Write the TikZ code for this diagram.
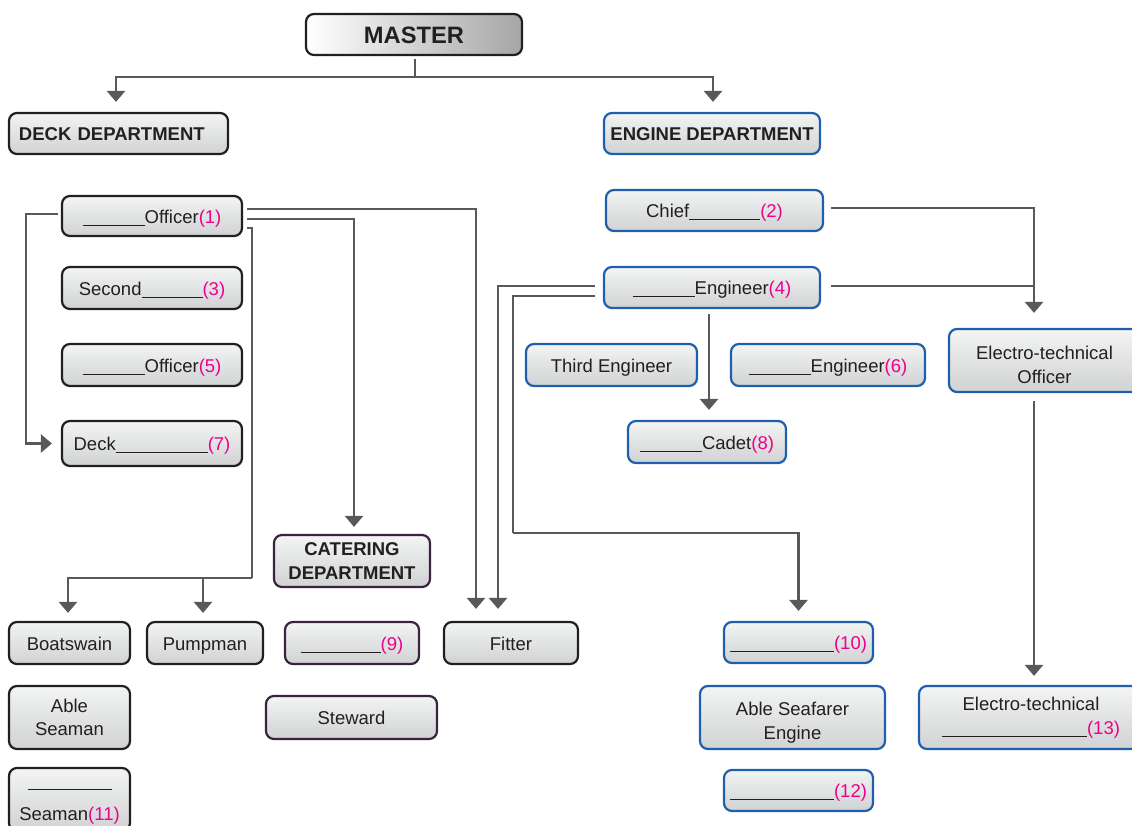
\documentclass[tikz,border=0pt]{standalone}
\usepackage{fontspec}
\setmainfont{Liberation Sans}
\usetikzlibrary{arrows.meta,calc}
\definecolor{txt}{HTML}{231F20}
\definecolor{mag}{HTML}{EC008C}
\definecolor{boxtop}{HTML}{F3F4F4}
\definecolor{boxbot}{HTML}{D0D2D3}
\definecolor{deckc}{HTML}{231F20}
\definecolor{engc}{HTML}{1E5FAE}
\definecolor{catc}{HTML}{3A2340}
\definecolor{linec}{HTML}{58595B}
\newcommand\fs{\fontsize{18.5}{24}\selectfont}
\newcommand\qn[1]{\textcolor{mag}{(#1)}}
\newcommand\blk[1]{\rule[-2.5pt]{#1pt}{1pt}}
\newcommand\hs[1]{\rule{0pt}{#1pt}}
\tikzset{
  box/.style={rounded corners=8pt, line width=2.2pt, top color=boxtop, bottom color=boxbot,
              text=txt, font=\fs, align=center, inner sep=0pt},
  one/.style={text height=14.6pt, text depth=0pt},
  deckbox/.style={box, draw=deckc},
  engbox/.style={box, draw=engc},
  catbox/.style={box, draw=catc},
  conn/.style={draw=linec, line width=2.7pt},
  arr/.style={conn, -{Triangle[width=18pt,length=11pt]}},
}
\begin{document}
\begin{tikzpicture}[x=1pt,y=-1pt]
\useasboundingbox (0,0) rectangle (1132,826);
\clip (0,0) rectangle (1132,826);
% top
\node[box, draw=deckc, left color=white, middle color=white!85!gray, right color=gray!70,
      minimum width=216, minimum height=41, text height=19pt, text depth=0pt,
      font=\fontsize{23.7}{28}\selectfont\bfseries] (master) at (414,34.5) {MASTER};
\node[deckbox, one, minimum width=219, minimum height=41, text width=199, align=left, font=\fs\bfseries] (deck) at (118.5,133.5) {DECK DEPARTMENT};
\node[engbox, one, minimum width=216, minimum height=41, font=\fs\bfseries] (engine) at (712,133.5) {ENGINE DEPARTMENT};
% deck column
\node[deckbox, one, minimum width=180, minimum height=40] (o1) at (152,216) {\blk{62}Officer\qn{1}};
\node[deckbox, one, minimum width=180, minimum height=42] (s3) at (152,288) {Second\blk{61}\qn{3}};
\node[deckbox, one, minimum width=180, minimum height=42] (o5) at (152,365) {\blk{62}Officer\qn{5}};
\node[deckbox, one, minimum width=180, minimum height=45] (d7) at (152,443.5) {Deck\blk{92}\qn{7}};
% engine
\node[engbox, one, minimum width=217, minimum height=41] (ch) at (714.5,210.5) {Chief\blk{71}\qn{2}};
\node[engbox, one, minimum width=216, minimum height=41] (e4) at (712,287.5) {\blk{62}Engineer\qn{4}};
\node[engbox, one, minimum width=171, minimum height=42] (te) at (611.5,365) {Third Engineer};
\node[engbox, one, minimum width=194, minimum height=42] (e6) at (828,365) {\blk{62}Engineer\qn{6}};
\node[engbox, one, minimum width=158, minimum height=42] (cd) at (707,442) {\blk{62}Cadet\qn{8}};
\node[engbox, minimum width=191, minimum height=63] (eto) at (1044.5,360.5) {\hs{22.5}Electro-technical\\Officer};
% catering
\node[catbox, minimum width=156, minimum height=52, font=\fs\bfseries] (cat) at (352,561) {CATERING\\DEPARTMENT};
\node[catbox, one, minimum width=134, minimum height=42] (n9) at (352,643) {\blk{80}\qn{9}};
\node[catbox, one, minimum width=171, minimum height=43] (stw) at (351.5,717.5) {Steward};
% bottom deck
\node[deckbox, one, minimum width=121, minimum height=42] (boat) at (69.5,643) {Boatswain};
\node[deckbox, one, minimum width=116, minimum height=42] (pump) at (205,643) {Pumpman};
\node[deckbox, one, minimum width=134, minimum height=42] (fit) at (511,643) {Fitter};
\node[deckbox, minimum width=121, minimum height=63, font=\fontsize{18.5}{22.5}\selectfont] (abs) at (69.5,717.5) {Able\\Seaman};
\node[deckbox, minimum width=121, minimum height=63] (s11) at (69.5,799.5) {\strut\rule[1pt]{84pt}{1pt}\\[5pt]Seaman\qn{11}};
% bottom engine
\node[engbox, one, minimum width=149, minimum height=41] (n10) at (798.5,642.5) {\blk{104}\qn{10}};
\node[engbox, minimum width=185, minimum height=63] (asf) at (792.5,717.5) {\hs{24.5}Able Seafarer\\Engine};
\node[engbox, one, minimum width=149, minimum height=41] (n12) at (798.5,790.5) {\blk{104}\qn{12}};
\node[engbox, minimum width=224, minimum height=63] (e13) at (1031,717.5) {Electro-technical\\\blk{145}\qn{13}};
% coordinates
\coordinate (mj) at (415,77);
\coordinate (lx) at (26,443.5);
\coordinate (bj) at (252,578);
\coordinate (ej) at (513,533);
\coordinate (etx) at (1034,0);
% connectors: master
\draw[conn, shorten <=3pt] (master.south -| mj) -- (mj);
\draw[arr, shorten >=10pt] (mj) -| ([xshift=-2.5pt]deck.north);
\draw[arr, shorten >=10pt] (mj) -| ([xshift=1pt]engine.north);
% officer (1)
\draw[arr, shorten <=3pt, shorten >=9pt] ([yshift=2pt]o1.west) -| (lx) -- (d7.west);
\draw[arr, shorten <=4pt, shorten >=12pt] ([yshift=7pt]o1.east) -| ([xshift=-35pt]fit.north);
\draw[arr, shorten <=4pt, shorten >=7pt] ([yshift=-3pt]o1.east) -| ([xshift=2pt]cat.north);
\draw[conn, shorten <=4pt] ([yshift=-12pt]o1.east) -| (bj);
\draw[arr, shorten >=8pt] (bj) -| ([xshift=-1.5pt]boat.north);
\draw[arr, shorten >=8pt] ([xshift=-2pt]pump.north |- bj) -- ([xshift=-2pt]pump.north);
% engine connectors
\draw[arr, shorten <=7pt, shorten >=15pt] ([yshift=2.5pt]ch.east) -| (eto.north -| etx);
\draw[conn, shorten <=10pt] ([yshift=1.5pt]e4.east) -- ([yshift=1.5pt]e4.east -| etx);
\draw[arr, shorten <=8pt, shorten >=12pt] ([yshift=1.5pt]e4.west) -| ([xshift=-13pt]fit.north);
\draw[conn, shorten <=8pt] ([yshift=-8.5pt]e4.west) -| (ej);
\draw[arr, shorten >=10pt] (ej) -| (n10.north);
\draw[arr, shorten <=5pt, shorten >=10pt] ([xshift=-3pt]e4.south) -- ([xshift=-3pt]e4.south |- cd.north);
\draw[arr, shorten <=8pt, shorten >=9pt] (eto.south -| etx) -- (e13.north -| etx);
\end{tikzpicture}
\end{document}
